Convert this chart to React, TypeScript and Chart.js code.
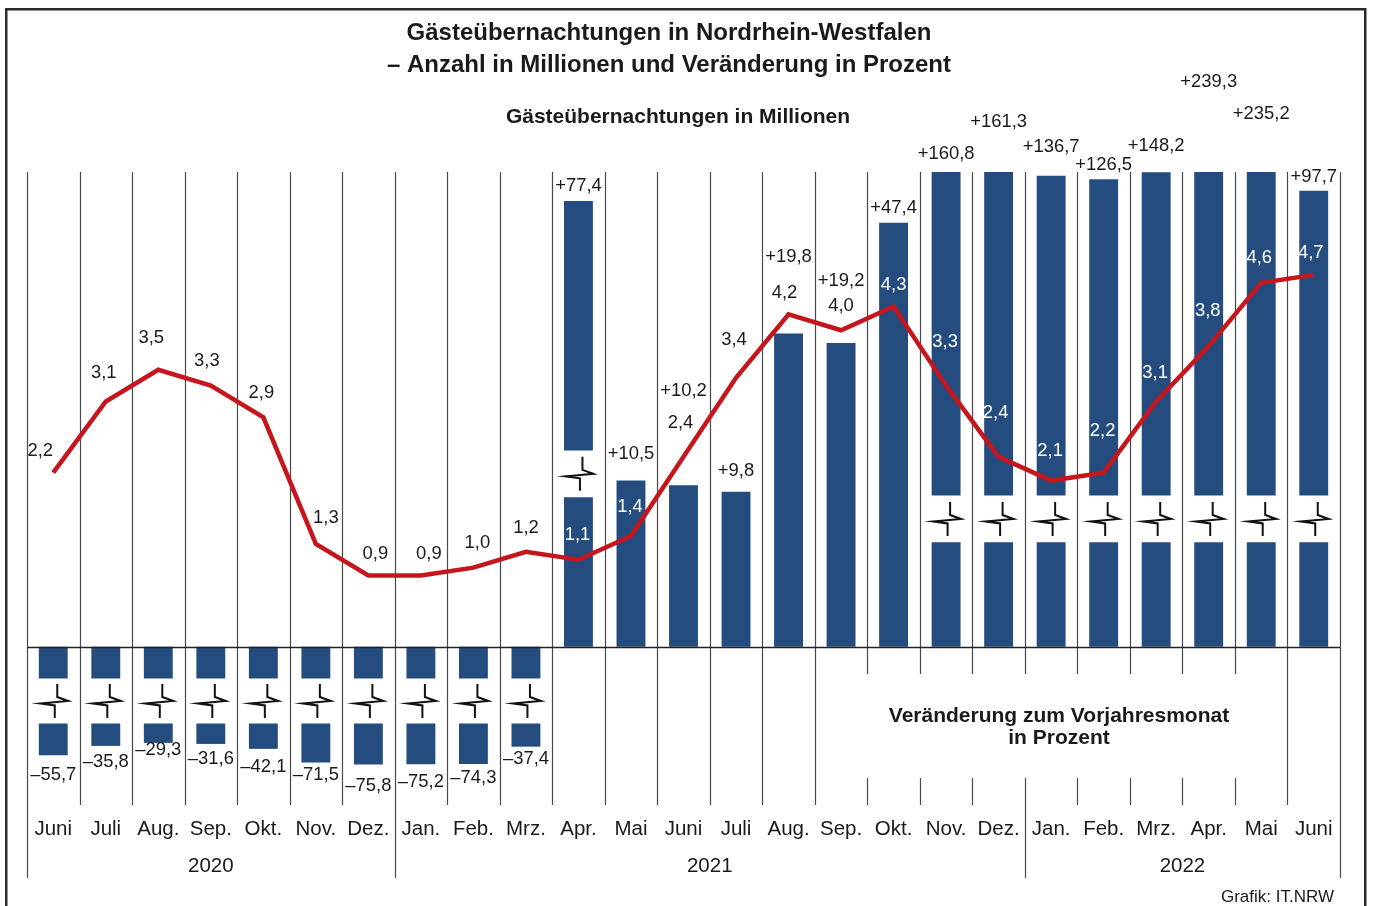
import React, { useEffect, useRef } from "react";
import { Chart, registerables } from "chart.js";

Chart.register(...registerables);

// ---------- data ----------
const months = [
  "Juni", "Juli", "Aug.", "Sep.", "Okt.", "Nov.", "Dez.",
  "Jan.", "Feb.", "Mrz.", "Apr.", "Mai", "Juni", "Juli", "Aug.", "Sep.", "Okt.", "Nov.", "Dez.",
  "Jan.", "Feb.", "Mrz.", "Apr.", "Mai", "Juni",
];
const yearLabels = ["2020", "2021", "2022"];
const yearFirstMonth = [0, 7, 19];

// Gästeübernachtungen in Millionen
const overnightStaysMio = [
  2.2, 3.1, 3.5, 3.3, 2.9, 1.3, 0.9,
  0.9, 1.0, 1.2, 1.1, 1.4, 2.4, 3.4, 4.2, 4.0, 4.3, 3.3, 2.4,
  2.1, 2.2, 3.1, 3.8, 4.6, 4.7,
];

// Veränderung zum Vorjahresmonat in Prozent
const changePct = [
  -55.7, -35.8, -29.3, -31.6, -42.1, -71.5, -75.8,
  -75.2, -74.3, -37.4, 77.4, 10.5, 10.2, 9.8, 19.8, 19.2, 47.4, 160.8, 161.3,
  136.7, 126.5, 148.2, 239.3, 235.2, 97.7,
];

// hand placed label nudges (px), as in the reference layout
const stayLabelDx = [-13, -2, -7, -4, -2, 10, 7, 8, 4, 0, -1, -1, -3, -2, -4, 0, 0, -1, -3, -1, -1, -1, -1, -2, -3];
const stayLabelDy = [-22, -29, -32, -25, -25, -26, -22, -22, -25, -24, -25, -29, -34, -38, -22, -24, -22, -44, -44, -30, -42, -29, -35, -25, -22];
const pctLabelLift = [-6, -2, 7, -1, -4, 2, -7, -3, 0, 2, 0, 12, 80, 6, 62, 47, 0, 3, 35, 14, 0, 12, 75, 43, -1];

// ---------- styling ----------
const BAR_COLOR = "#244c7f";
const LINE_COLOR = "#c5161d";
const GRID_COLOR = "#4a4a4a";
const FONT = '"Liberation Sans", Arial, Helvetica, sans-serif';

const PCT_MIN = -10;
const PCT_MAX = 30;
const MIO_MIN = -2;
const MIO_MAX = 6;
const MIO_TO_PCT = PCT_MAX / MIO_MAX;

// broken-axis display of the percent values
const LINEAR_LIMIT = 25;
const COMPRESSION = 2.8;
const BREAK_THRESHOLD = 50;

function shownValue(v: number) {
  return v <= LINEAR_LIMIT ? v : LINEAR_LIMIT + COMPRESSION * Math.log(v / LINEAR_LIMIT);
}

type Seg = [number, number] | null;

function barSegments(i: number): { a: Seg; b: Seg } {
  const v = changePct[i];
  if (v < 0) {
    return { a: [0, -2.0], b: [-4.85, -(5.21 + 0.0295 * Math.abs(v))] };
  }
  if (v <= BREAK_THRESHOLD) return { a: [0, shownValue(v)], b: null };
  const linePct = overnightStaysMio[i] * MIO_TO_PCT;
  const lo = linePct >= 10 ? 6.6 : linePct + 3.95;
  const hi = lo + 2.95;
  return { a: [0, lo], b: [hi, shownValue(v)] };
}

function fmt(v: number) {
  return Math.abs(v).toFixed(1).replace(".", ",");
}

function drawText(
  ctx: CanvasRenderingContext2D,
  s: string,
  x: number,
  y: number,
  font: string,
  color: string,
  align: CanvasTextAlign = "center",
  sx = 1
) {
  ctx.save();
  ctx.font = font;
  ctx.fillStyle = color;
  ctx.textAlign = align;
  ctx.textBaseline = "middle";
  ctx.translate(x, y);
  ctx.scale(sx, 1);
  ctx.fillText(s, 0, 0);
  ctx.restore();
}

function drawBreak(ctx: CanvasRenderingContext2D, cx: number, cy: number) {
  ctx.save();
  ctx.strokeStyle = "#111";
  ctx.lineWidth = 2;
  ctx.lineJoin = "miter";
  ctx.beginPath();
  ctx.moveTo(cx + 4, cy - 17);
  ctx.lineTo(cx + 4, cy - 4);
  ctx.lineTo(cx + 15, cy);
  ctx.lineTo(cx - 13, cy + 2.5);
  ctx.lineTo(cx + 1.5, cy + 4.5);
  ctx.lineTo(cx + 1.5, cy + 17);
  ctx.stroke();
  ctx.restore();
}

export default function App() {
  const ref = useRef<HTMLCanvasElement>(null);

  useEffect(() => {
    const canvas = ref.current;
    if (!canvas) return;
    const segs = changePct.map((_, i) => barSegments(i));

    const decor = {
      id: "decor",
      beforeDraw(chart: any) {
        const ctx = chart.ctx as CanvasRenderingContext2D;
        ctx.save();
        ctx.fillStyle = "#fff";
        ctx.fillRect(0, 0, chart.width, chart.height);
        ctx.strokeStyle = "#2b2b2b";
        ctx.lineWidth = 2.5;
        ctx.strokeRect(6.25, 9.25, 1359, 1000);
        ctx.restore();
      },
      beforeDatasetsDraw(chart: any) {
        const ctx = chart.ctx as CanvasRenderingContext2D;
        const xs = chart.scales.x;
        const area = chart.chartArea;
        const n = months.length;
        const w = (xs.right - xs.left) / n;
        ctx.save();
        ctx.strokeStyle = GRID_COLOR;
        ctx.lineWidth = 1.2;
        for (let k = 0; k <= n; k++) {
          const x = Math.round(xs.left + k * w) + 0.5;
          const isYear = k === 0 || k === n || yearFirstMonth.includes(k);
          const bottom = isYear ? area.bottom + 73 : area.bottom;
          ctx.beginPath();
          if (k >= 16 && k <= 23) {
            ctx.moveTo(x, area.top);
            ctx.lineTo(x, 674);
            ctx.moveTo(x, 778);
            ctx.lineTo(x, bottom);
          } else {
            ctx.moveTo(x, area.top);
            ctx.lineTo(x, bottom);
          }
          ctx.stroke();
        }
        ctx.restore();
      },
      afterDatasetsDraw(chart: any) {
        const ctx = chart.ctx as CanvasRenderingContext2D;
        const xs = chart.scales.x;
        const ys = chart.scales.y;
        const y1 = chart.scales.y1;
        const area = chart.chartArea;
        const n = months.length;
        const w = (xs.right - xs.left) / n;
        const barHalf = (w * 0.55) / 2;

        // zero line
        const y0 = Math.round(ys.getPixelForValue(0)) + 0.5;
        ctx.save();
        ctx.strokeStyle = "#222";
        ctx.lineWidth = 1.3;
        ctx.beginPath();
        ctx.moveTo(area.left, y0);
        ctx.lineTo(area.right, y0);
        ctx.stroke();
        ctx.restore();

        // break symbols
        segs.forEach((s, i) => {
          if (!s.a || !s.b) return;
          const cx = xs.getPixelForValue(i);
          const cy = (ys.getPixelForValue(s.a[1]) + ys.getPixelForValue(s.b[0])) / 2;
          drawBreak(ctx, cx, cy);
        });

        const numFont = `19px ${FONT}`;
        // percent labels
        changePct.forEach((v, i) => {
          const cx = xs.getPixelForValue(i);
          const s = segs[i];
          const endVal = s.b ? s.b[1] : (s.a as [number, number])[1];
          let endPx = ys.getPixelForValue(Math.min(endVal, PCT_MAX));
          let y: number;
          if (v >= 0) {
            endPx = Math.max(endPx, area.top);
            y = endPx - 15 - pctLabelLift[i];
          } else {
            y = endPx + 14 - pctLabelLift[i];
          }
          const txt = (v >= 0 ? "+" : "\u2013") + fmt(v);
          drawText(ctx, txt, cx, y, numFont, "#1a1a1a", "center", 0.97);
        });

        // line value labels
        overnightStaysMio.forEach((v, i) => {
          const px = xs.getPixelForValue(i);
          const py = y1.getPixelForValue(v);
          const lx = px + stayLabelDx[i];
          const ly = py + stayLabelDy[i];
          const s = segs[i];
          let inside = false;
          if (Math.abs(lx - px) < barHalf) {
            for (const seg of [s.a, s.b]) {
              if (!seg) continue;
              const p1 = Math.max(ys.getPixelForValue(Math.min(seg[0], PCT_MAX)), area.top);
              const p2 = Math.max(ys.getPixelForValue(Math.min(seg[1], PCT_MAX)), area.top);
              if (ly > Math.min(p1, p2) + 4 && ly < Math.max(p1, p2) - 4) inside = true;
            }
          }
          drawText(ctx, fmt(v), lx, ly, numFont, inside ? "#ffffff" : "#1a1a1a", "center", 0.97);
        });

        // month + year labels
        const monthFont = `20.5px ${FONT}`;
        months.forEach((m, i) => {
          drawText(ctx, m, xs.getPixelForValue(i), 829, monthFont, "#1a1a1a");
        });
        yearLabels.forEach((yl, j) => {
          const first = yearFirstMonth[j];
          const last = j + 1 < yearFirstMonth.length ? yearFirstMonth[j + 1] : n;
          const cx = xs.left + ((first + last) / 2) * w;
          drawText(ctx, yl, cx, 866, monthFont, "#1a1a1a");
        });

        // titles
        drawText(ctx, "Gästeübernachtungen in Nordrhein-Westfalen", 669, 33, `bold 24px ${FONT}`, "#1a1a1a");
        drawText(ctx, "\u2013 Anzahl in Millionen und Veränderung in Prozent", 669, 65, `bold 24px ${FONT}`, "#1a1a1a");
        drawText(ctx, "Gästeübernachtungen in Millionen", 678, 117, `bold 21px ${FONT}`, "#1a1a1a");
        drawText(ctx, "Veränderung zum Vorjahresmonat", 1059, 716, `bold 21px ${FONT}`, "#1a1a1a");
        drawText(ctx, "in Prozent", 1059, 738, `bold 21px ${FONT}`, "#1a1a1a");
        drawText(ctx, "Grafik: IT.NRW", 1334, 897, `17px ${FONT}`, "#1a1a1a", "right");
      },
    };

    const barCommon = {
      type: "bar" as const,
      yAxisID: "y",
      backgroundColor: BAR_COLOR,
      borderWidth: 0,
      barPercentage: 0.55,
      categoryPercentage: 1,
      grouped: false,
      order: 1,
    };

    const chart = new Chart(canvas, {
      type: "bar",
      data: {
        labels: months,
        datasets: [
          {
            type: "line",
            label: "Gästeübernachtungen in Millionen",
            data: overnightStaysMio,
            yAxisID: "y1",
            borderColor: LINE_COLOR,
            borderWidth: 4.5,
            pointRadius: 0,
            tension: 0,
            order: 0,
          } as any,
          { ...barCommon, label: "Veränderung zum Vorjahresmonat in Prozent", data: segs.map((s) => s.a) } as any,
          { ...barCommon, label: "Veränderung (oberer Teil)", data: segs.map((s) => s.b) } as any,
        ],
      },
      options: {
        responsive: false,
        animation: false,
        devicePixelRatio: 1,
        events: [],
        layout: { padding: { left: 27, right: 33, top: 172, bottom: 101 } },
        plugins: { legend: { display: false }, tooltip: { enabled: false }, title: { display: false } },
        scales: {
          x: { display: false, offset: true },
          y: { display: false, min: PCT_MIN, max: PCT_MAX },
          y1: { display: false, min: MIO_MIN, max: MIO_MAX },
        },
      },
      plugins: [decor],
    });
    return () => chart.destroy();
  }, []);

  return (
    <div style={{ position: "absolute", left: 0, top: 0, width: 1373, height: 906, background: "#fff" }}>
      <canvas ref={ref} width={1373} height={906} style={{ display: "block", width: 1373, height: 906 }} />
    </div>
  );
}
